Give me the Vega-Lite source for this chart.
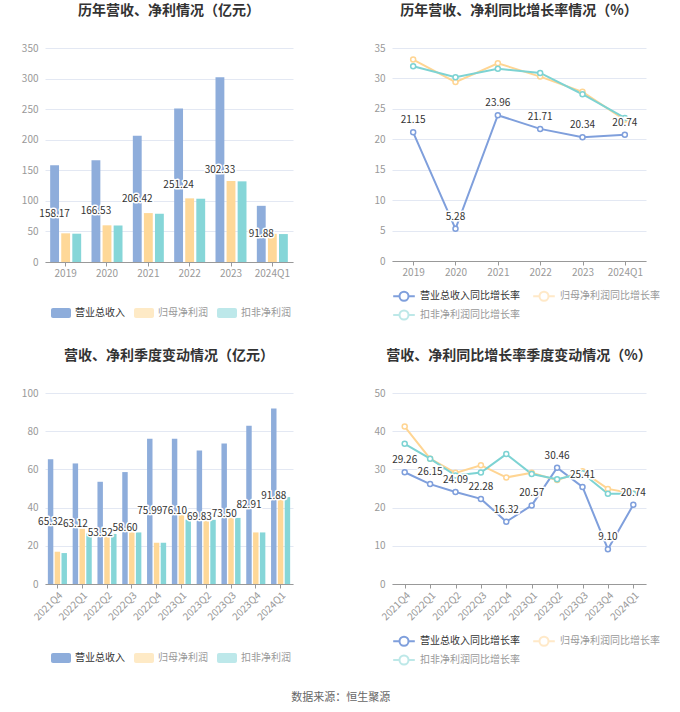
{
  "$schema": "https://vega.github.io/schema/vega-lite/v6.json",
  "background": "white",
  "padding": {"left": 21, "top": 4, "right": 0, "bottom": 0},
  "config": {
    "font": "Noto Sans CJK SC",
    "view": {"stroke": null},
    "axis": {"labelFont": "Noto Sans CJK SC", "labelFontSize": 10, "labelColor": "#999", "gridColor": "#e3e8f3", "domainColor": "#aaa", "tickColor": "#aaa", "title": null},
    "axisY": {"domain": false, "ticks": false, "grid": true, "labelPadding": 7},
    "axisX": {"grid": false, "ticks": true, "tickSize": 4, "labelPadding": 2, "domainColor": "#999", "tickColor": "#999"},
    "title": {"fontSize": 14, "fontWeight": "bold", "color": "#333", "anchor": "middle", "frame": "group", "offset": 25},
    "legend": {"labelFontSize": 10, "labelFont": "Noto Sans CJK SC", "padding": 0, "title": null, "labelColor": "#999"}
  },
  "datasets": {
    "annual": [
      {"p": "2019", "s": "营业总收入", "v": 158.17}, {"p": "2019", "s": "归母净利润", "v": 46.9}, {"p": "2019", "s": "扣非净利润", "v": 46.3},
      {"p": "2020", "s": "营业总收入", "v": 166.53}, {"p": "2020", "s": "归母净利润", "v": 60.0}, {"p": "2020", "s": "扣非净利润", "v": 59.8},
      {"p": "2021", "s": "营业总收入", "v": 206.42}, {"p": "2021", "s": "归母净利润", "v": 80.0}, {"p": "2021", "s": "扣非净利润", "v": 79.1},
      {"p": "2022", "s": "营业总收入", "v": 251.24}, {"p": "2022", "s": "归母净利润", "v": 104.1}, {"p": "2022", "s": "扣非净利润", "v": 103.5},
      {"p": "2023", "s": "营业总收入", "v": 302.33}, {"p": "2023", "s": "归母净利润", "v": 132.5}, {"p": "2023", "s": "扣非净利润", "v": 131.9},
      {"p": "2024Q1", "s": "营业总收入", "v": 91.88}, {"p": "2024Q1", "s": "归母净利润", "v": 46.1}, {"p": "2024Q1", "s": "扣非净利润", "v": 45.7}
    ],
    "annualG": [
      {"p": "2019", "s": "营业总收入同比增长率", "v": 21.15}, {"p": "2019", "s": "归母净利润同比增长率", "v": 33.1}, {"p": "2019", "s": "扣非净利润同比增长率", "v": 32.0},
      {"p": "2020", "s": "营业总收入同比增长率", "v": 5.28}, {"p": "2020", "s": "归母净利润同比增长率", "v": 29.4}, {"p": "2020", "s": "扣非净利润同比增长率", "v": 30.2},
      {"p": "2021", "s": "营业总收入同比增长率", "v": 23.96}, {"p": "2021", "s": "归母净利润同比增长率", "v": 32.5}, {"p": "2021", "s": "扣非净利润同比增长率", "v": 31.6},
      {"p": "2022", "s": "营业总收入同比增长率", "v": 21.71}, {"p": "2022", "s": "归母净利润同比增长率", "v": 30.3}, {"p": "2022", "s": "扣非净利润同比增长率", "v": 30.9},
      {"p": "2023", "s": "营业总收入同比增长率", "v": 20.34}, {"p": "2023", "s": "归母净利润同比增长率", "v": 27.8}, {"p": "2023", "s": "扣非净利润同比增长率", "v": 27.4},
      {"p": "2024Q1", "s": "营业总收入同比增长率", "v": 20.74}, {"p": "2024Q1", "s": "归母净利润同比增长率", "v": 23.2}, {"p": "2024Q1", "s": "扣非净利润同比增长率", "v": 23.5}
    ],
    "quarter": [
      {"p": "2021Q4", "s": "营业总收入", "v": 65.32}, {"p": "2021Q4", "s": "归母净利润", "v": 16.9}, {"p": "2021Q4", "s": "扣非净利润", "v": 16.2},
      {"p": "2022Q1", "s": "营业总收入", "v": 63.12}, {"p": "2022Q1", "s": "归母净利润", "v": 29.0}, {"p": "2022Q1", "s": "扣非净利润", "v": 26.4},
      {"p": "2022Q2", "s": "营业总收入", "v": 53.52}, {"p": "2022Q2", "s": "归母净利润", "v": 25.0}, {"p": "2022Q2", "s": "扣非净利润", "v": 26.2},
      {"p": "2022Q3", "s": "营业总收入", "v": 58.60}, {"p": "2022Q3", "s": "归母净利润", "v": 27.0}, {"p": "2022Q3", "s": "扣非净利润", "v": 27.0},
      {"p": "2022Q4", "s": "营业总收入", "v": 75.99}, {"p": "2022Q4", "s": "归母净利润", "v": 21.6}, {"p": "2022Q4", "s": "扣非净利润", "v": 21.6},
      {"p": "2023Q1", "s": "营业总收入", "v": 76.10}, {"p": "2023Q1", "s": "归母净利润", "v": 36.3}, {"p": "2023Q1", "s": "扣非净利润", "v": 33.7},
      {"p": "2023Q2", "s": "营业总收入", "v": 69.83}, {"p": "2023Q2", "s": "归母净利润", "v": 33.3}, {"p": "2023Q2", "s": "扣非净利润", "v": 33.6},
      {"p": "2023Q3", "s": "营业总收入", "v": 73.50}, {"p": "2023Q3", "s": "归母净利润", "v": 34.7}, {"p": "2023Q3", "s": "扣非净利润", "v": 34.6},
      {"p": "2023Q4", "s": "营业总收入", "v": 82.91}, {"p": "2023Q4", "s": "归母净利润", "v": 27.0}, {"p": "2023Q4", "s": "扣非净利润", "v": 27.0},
      {"p": "2024Q1", "s": "营业总收入", "v": 91.88}, {"p": "2024Q1", "s": "归母净利润", "v": 44.2}, {"p": "2024Q1", "s": "扣非净利润", "v": 45.5}
    ],
    "quarterG": [
      {"p": "2021Q4", "s": "营业总收入同比增长率", "v": 29.26}, {"p": "2021Q4", "s": "归母净利润同比增长率", "v": 41.2}, {"p": "2021Q4", "s": "扣非净利润同比增长率", "v": 36.7},
      {"p": "2022Q1", "s": "营业总收入同比增长率", "v": 26.15}, {"p": "2022Q1", "s": "归母净利润同比增长率", "v": 32.8}, {"p": "2022Q1", "s": "扣非净利润同比增长率", "v": 32.8},
      {"p": "2022Q2", "s": "营业总收入同比增长率", "v": 24.09}, {"p": "2022Q2", "s": "归母净利润同比增长率", "v": 29.1}, {"p": "2022Q2", "s": "扣非净利润同比增长率", "v": 28.4},
      {"p": "2022Q3", "s": "营业总收入同比增长率", "v": 22.28}, {"p": "2022Q3", "s": "归母净利润同比增长率", "v": 31.1}, {"p": "2022Q3", "s": "扣非净利润同比增长率", "v": 29.2},
      {"p": "2022Q4", "s": "营业总收入同比增长率", "v": 16.32}, {"p": "2022Q4", "s": "归母净利润同比增长率", "v": 27.9}, {"p": "2022Q4", "s": "扣非净利润同比增长率", "v": 34.0},
      {"p": "2023Q1", "s": "营业总收入同比增长率", "v": 20.57}, {"p": "2023Q1", "s": "归母净利润同比增长率", "v": 29.1}, {"p": "2023Q1", "s": "扣非净利润同比增长率", "v": 28.8},
      {"p": "2023Q2", "s": "营业总收入同比增长率", "v": 30.46}, {"p": "2023Q2", "s": "归母净利润同比增长率", "v": 27.2}, {"p": "2023Q2", "s": "扣非净利润同比增长率", "v": 27.4},
      {"p": "2023Q3", "s": "营业总收入同比增长率", "v": 25.41}, {"p": "2023Q3", "s": "归母净利润同比增长率", "v": 29.5}, {"p": "2023Q3", "s": "扣非净利润同比增长率", "v": 29.0},
      {"p": "2023Q4", "s": "营业总收入同比增长率", "v": 9.10}, {"p": "2023Q4", "s": "归母净利润同比增长率", "v": 24.9}, {"p": "2023Q4", "s": "扣非净利润同比增长率", "v": 23.6},
      {"p": "2024Q1", "s": "营业总收入同比增长率", "v": 20.74}, {"p": "2024Q1", "s": "归母净利润同比增长率", "v": 23.7}, {"p": "2024Q1", "s": "扣非净利润同比增长率", "v": 23.6}
    ]
  },
  "title": {"text": "数据来源：恒生聚源", "orient": "bottom", "anchor": "middle", "frame": "bounds", "fontSize": 11, "fontWeight": "normal", "color": "#666", "offset": 23},
  "resolve": {"scale": {"color": "independent", "xOffset": "independent"}, "legend": {"color": "independent"}},
  "vconcat": [
    {
      "resolve": {"scale": {"color": "independent", "xOffset": "independent"}, "legend": {"color": "independent"}},
      "hconcat": [
        {
          "width": 248, "height": 214,
          "title": {"text": "历年营收、净利情况（亿元）"},
          "data": {"name": "annual"},
          "layer": [
            {
              "mark": {"type": "bar"},
              "encoding": {
                "x": {"field": "p", "type": "nominal", "sort": null, "scale": {"paddingInner": 0.25, "paddingOuter": 0.125}, "axis": {"labelAngle": 0}},
                "xOffset": {"field": "s", "type": "nominal", "scale": {"domain": ["营业总收入", "归母净利润", "扣非净利润"], "paddingInner": 0.2}},
                "y": {"field": "v", "type": "quantitative", "scale": {"domain": [0, 350]}, "axis": {"values": [0, 50, 100, 150, 200, 250, 300, 350]}},
                "color": {"field": "s", "type": "nominal", "scale": {"domain": ["营业总收入", "归母净利润", "扣非净利润"], "range": ["#8eaddb", "#fed898", "#86d6d8"]},
                  "legend": {"orient": "none", "legendX": 6, "legendY": 255, "direction": "horizontal", "columns": 3, "columnPadding": 9, "labelOffset": 4,
                    "symbolType": "M-0.8,-0.5h1.6a0.2,0.2 0 0 1 0.2,0.2v0.6a0.2,0.2 0 0 1 -0.2,0.2h-1.6a0.2,0.2 0 0 1 -0.2,-0.2v-0.6a0.2,0.2 0 0 1 0.2,-0.2z", "symbolSize": 400, "symbolStrokeWidth": 0,
                    "encode": {"labels": {"update": {"fill": {"signal": "datum.index === 0 ? '#333' : '#999'"}}}, "symbols": {"update": {"opacity": {"signal": "datum.index === 0 ? 1 : 0.55"}}}}}}
              }
            },
            {
              "transform": [{"filter": "datum.s === '营业总收入'"}],
              "mark": {"type": "text", "fontSize": 10, "fill": "white", "stroke": "white", "strokeWidth": 3, "strokeJoin": "round"},
              "encoding": {
                "x": {"field": "p", "type": "nominal", "sort": null},
                "xOffset": {"field": "s", "type": "nominal", "scale": {"domain": ["营业总收入", "归母净利润", "扣非净利润"]}},
                "y": {"field": "v", "type": "quantitative", "scale": {"domain": [0, 700]}, "axis": null},
                "text": {"field": "v", "type": "quantitative", "format": ".2f"}
              }
            },
            {
              "transform": [{"filter": "datum.s === '营业总收入'"}],
              "mark": {"type": "text", "fontSize": 10, "fill": "#333"},
              "encoding": {
                "x": {"field": "p", "type": "nominal", "sort": null},
                "xOffset": {"field": "s", "type": "nominal", "scale": {"domain": ["营业总收入", "归母净利润", "扣非净利润"]}},
                "y": {"field": "v", "type": "quantitative", "scale": {"domain": [0, 700]}, "axis": null},
                "text": {"field": "v", "type": "quantitative", "format": ".2f"}
              }
            }
          ],
          "resolve": {"scale": {"y": "independent"}}
        },
        {
          "width": 254, "height": 213,
          "title": {"text": "历年营收、净利同比增长率情况（%）"},
          "data": {"name": "annualG"},
          "encoding": {
            "x": {"field": "p", "type": "nominal", "sort": null, "scale": {"type": "point", "padding": 0.5}, "axis": {"labelAngle": 0}},
            "y": {"field": "v", "type": "quantitative", "scale": {"domain": [0, 35]}, "axis": {"values": [0, 5, 10, 15, 20, 25, 30, 35]}},
            "color": {"field": "s", "type": "nominal", "scale": {"domain": ["营业总收入同比增长率", "归母净利润同比增长率", "扣非净利润同比增长率"], "range": ["#7f9fdc", "#ffd593", "#7dd3d3"]},
              "legend": {"orient": "none", "legendX": 2, "legendY": 238, "direction": "horizontal", "columns": 2, "columnPadding": 9, "labelOffset": 6, "rowPadding": 0,
                "symbolType": "M-1.2,0H-0.5M0.5,0H1.2M-0.5,0A0.5,0.5 0 1,0 0.5,0A0.5,0.5 0 1,0 -0.5,0", "symbolSize": 324, "symbolStrokeWidth": 2,
                "encode": {"labels": {"update": {"fill": {"signal": "datum.index === 0 ? '#333' : '#999'"}}}, "symbols": {"update": {"fill": {"value": "white"}, "opacity": {"signal": "datum.index === 0 ? 1 : 0.5"}}}}}}
          },
          "layer": [
            {"mark": {"type": "line", "strokeWidth": 2}},
            {"mark": {"type": "point", "filled": false, "fill": "white", "size": 25, "strokeWidth": 1.5, "opacity": 1}},
            {
              "transform": [{"filter": "datum.s === '营业总收入同比增长率'"}],
              "mark": {"type": "text", "dy": -12, "fontSize": 10, "stroke": "white", "strokeWidth": 3, "strokeJoin": "round"},
              "encoding": {"text": {"field": "v", "type": "quantitative", "format": ".2f"}, "color": {"value": "white"}}
            },
            {
              "transform": [{"filter": "datum.s === '营业总收入同比增长率'"}],
              "mark": {"type": "text", "dy": -12, "fontSize": 10},
              "encoding": {"text": {"field": "v", "type": "quantitative", "format": ".2f"}, "color": {"value": "#333"}}
            }
          ]
        }
      ],
      "spacing": 80
    },
    {
      "resolve": {"scale": {"color": "independent", "xOffset": "independent"}, "legend": {"color": "independent"}},
      "hconcat": [
        {
          "width": 248, "height": 191,
          "title": {"text": "营收、净利季度变动情况（亿元）"},
          "data": {"name": "quarter"},
          "layer": [
            {
              "mark": {"type": "bar"},
              "encoding": {
                "x": {"field": "p", "type": "nominal", "sort": null, "scale": {"paddingInner": 0.23, "paddingOuter": 0.115}, "axis": {"labelAngle": -45}},
                "xOffset": {"field": "s", "type": "nominal", "scale": {"domain": ["营业总收入", "归母净利润", "扣非净利润"], "paddingInner": 0.2}},
                "y": {"field": "v", "type": "quantitative", "scale": {"domain": [0, 100]}, "axis": {"values": [0, 20, 40, 60, 80, 100]}},
                "color": {"field": "s", "type": "nominal", "scale": {"domain": ["营业总收入", "归母净利润", "扣非净利润"], "range": ["#8eaddb", "#fed898", "#86d6d8"]},
                  "legend": {"orient": "none", "legendX": 6, "legendY": 255, "direction": "horizontal", "columns": 3, "columnPadding": 9, "labelOffset": 4,
                    "symbolType": "M-0.8,-0.5h1.6a0.2,0.2 0 0 1 0.2,0.2v0.6a0.2,0.2 0 0 1 -0.2,0.2h-1.6a0.2,0.2 0 0 1 -0.2,-0.2v-0.6a0.2,0.2 0 0 1 0.2,-0.2z", "symbolSize": 400, "symbolStrokeWidth": 0,
                    "encode": {"labels": {"update": {"fill": {"signal": "datum.index === 0 ? '#333' : '#999'"}}}, "symbols": {"update": {"opacity": {"signal": "datum.index === 0 ? 1 : 0.55"}}}}}}
              }
            },
            {
              "transform": [{"filter": "datum.s === '营业总收入'"}],
              "mark": {"type": "text", "fontSize": 10, "fill": "white", "stroke": "white", "strokeWidth": 3, "strokeJoin": "round"},
              "encoding": {
                "x": {"field": "p", "type": "nominal", "sort": null},
                "xOffset": {"field": "s", "type": "nominal", "scale": {"domain": ["营业总收入", "归母净利润", "扣非净利润"]}},
                "y": {"field": "v", "type": "quantitative", "scale": {"domain": [0, 200]}, "axis": null},
                "text": {"field": "v", "type": "quantitative", "format": ".2f"}
              }
            },
            {
              "transform": [{"filter": "datum.s === '营业总收入'"}],
              "mark": {"type": "text", "fontSize": 10, "fill": "#333"},
              "encoding": {
                "x": {"field": "p", "type": "nominal", "sort": null},
                "xOffset": {"field": "s", "type": "nominal", "scale": {"domain": ["营业总收入", "归母净利润", "扣非净利润"]}},
                "y": {"field": "v", "type": "quantitative", "scale": {"domain": [0, 200]}, "axis": null},
                "text": {"field": "v", "type": "quantitative", "format": ".2f"}
              }
            }
          ],
          "resolve": {"scale": {"y": "independent"}}
        },
        {
          "width": 254, "height": 191,
          "title": {"text": "营收、净利同比增长率季度变动情况（%）"},
          "data": {"name": "quarterG"},
          "encoding": {
            "x": {"field": "p", "type": "nominal", "sort": null, "scale": {"type": "point", "padding": 0.5}, "axis": {"labelAngle": -45}},
            "y": {"field": "v", "type": "quantitative", "scale": {"domain": [0, 50]}, "axis": {"values": [0, 10, 20, 30, 40, 50]}},
            "color": {"field": "s", "type": "nominal", "scale": {"domain": ["营业总收入同比增长率", "归母净利润同比增长率", "扣非净利润同比增长率"], "range": ["#7f9fdc", "#ffd593", "#7dd3d3"]},
              "legend": {"orient": "none", "legendX": 2, "legendY": 238, "direction": "horizontal", "columns": 2, "columnPadding": 9, "labelOffset": 6, "rowPadding": 0,
                "symbolType": "M-1.2,0H-0.5M0.5,0H1.2M-0.5,0A0.5,0.5 0 1,0 0.5,0A0.5,0.5 0 1,0 -0.5,0", "symbolSize": 324, "symbolStrokeWidth": 2,
                "encode": {"labels": {"update": {"fill": {"signal": "datum.index === 0 ? '#333' : '#999'"}}}, "symbols": {"update": {"fill": {"value": "white"}, "opacity": {"signal": "datum.index === 0 ? 1 : 0.5"}}}}}}
          },
          "layer": [
            {"mark": {"type": "line", "strokeWidth": 2}},
            {"mark": {"type": "point", "filled": false, "fill": "white", "size": 25, "strokeWidth": 1.5, "opacity": 1}},
            {
              "transform": [{"filter": "datum.s === '营业总收入同比增长率'"}],
              "mark": {"type": "text", "dy": -12, "fontSize": 10, "stroke": "white", "strokeWidth": 3, "strokeJoin": "round"},
              "encoding": {"text": {"field": "v", "type": "quantitative", "format": ".2f"}, "color": {"value": "white"}}
            },
            {
              "transform": [{"filter": "datum.s === '营业总收入同比增长率'"}],
              "mark": {"type": "text", "dy": -12, "fontSize": 10},
              "encoding": {"text": {"field": "v", "type": "quantitative", "format": ".2f"}, "color": {"value": "#333"}}
            }
          ]
        }
      ],
      "spacing": 80
    }
  ],
  "spacing": 25
}
